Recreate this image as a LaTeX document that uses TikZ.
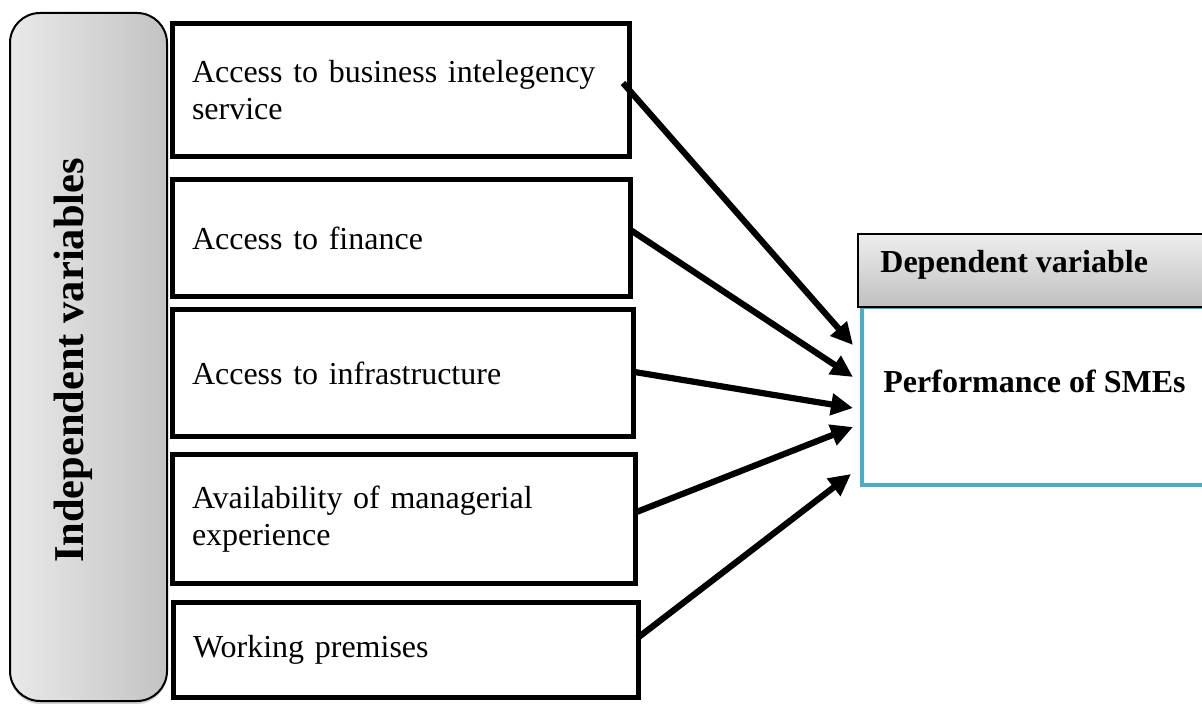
\documentclass[tikz,border=0pt]{standalone}
\usepackage{fontspec}
\setmainfont{Liberation Serif}
\usetikzlibrary{arrows.meta,calc,shadows}
\definecolor{panelgreyl}{HTML}{E9E9E9}
\definecolor{panelgreyr}{HTML}{C3C3C3}
\definecolor{headgreyt}{HTML}{EEEEEE}
\definecolor{headgreyb}{HTML}{C0C0C0}
\definecolor{accentblue}{HTML}{4BACC6}
\begin{document}
\begin{tikzpicture}[x=0.5pt,y=-0.5pt,
  varbox/.style={draw, line width=2.5pt, fill=white, inner xsep=10pt, inner ysep=0pt,
    align=left, font=\fontsize{16}{18.5}\selectfont},
  boldtext/.style={inner sep=0pt, font=\bfseries\fontsize{16}{18.5}\selectfont},
  link/.style={line width=3.1pt, -{Triangle[length=11pt,width=10.5pt]}},
  ]
\useasboundingbox (0,0) rectangle (1202,704);
\clip (0,0) rectangle (1202,704);

% side panel with the group title
\node (panel) [draw, line width=1pt, rounded corners=15pt,
  left color=panelgreyl, right color=panelgreyr,
  minimum width=78.5pt, minimum height=344pt,
  drop shadow={shadow xshift=0pt, shadow yshift=-1.5pt, opacity=0.35}] at (88.5,357) {};
\node (paneltitle) [rotate=90, inner sep=0pt, font=\bfseries\fontsize{21.25}{24}\selectfont]
  at (73,360.5) {Independent variables};

% independent variables
\node (b1) [varbox, minimum width=228.5pt, minimum height=66.5pt, text width=208.5pt]
  at (400.5,90.5) {Access to business intelegency\\service};
\node (b2) [varbox, minimum width=229pt, minimum height=58.5pt, text width=209pt]
  at (401,238.5) {Access to finance};
\node (b3) [varbox, minimum width=230.5pt, minimum height=63.5pt, text width=210.5pt]
  at (402.5,373.5) {Access to infrastructure};
\node (b4) [varbox, minimum width=231.5pt, minimum height=64pt, text width=211.5pt]
  at (403.5,519) {Availability of managerial\\experience};
\node (b5) [varbox, minimum width=232.5pt, minimum height=47.5pt, text width=212.5pt]
  at (405.5,649.5) {Working premises};

% dependent variable
\node (depbody) [draw=accentblue, line width=2pt, fill=white,
  minimum width=176.5pt, minimum height=89pt] at (1038.5,396) {};
\node (dephead) [draw, line width=1pt, top color=headgreyt, bottom color=headgreyb,
  minimum width=178.5pt, minimum height=36.5pt] at (1036.5,270.5) {};
\node (deptitle) [boldtext, anchor=base west] at (880,273) {Dependent variable};
\node (deptext) [boldtext, anchor=base west] at (883,393) {Performance of SMEs};

% links
\draw[link] ($(b1.east)+(-8.5,-7.5)$) -- ($(depbody.north west)+(-7,40)$);
\draw[link] ($(b2.east)+(-2,-8.5)$) -- ($(depbody.north west)+(-7,72)$);
\draw[link] ($(b3.east)+(-1,-1.5)$) -- ($(depbody.north west)+(-7,103)$);
\draw[link] ($(b4.east)+(-1,-7)$) -- ($(depbody.north west)+(-7,122)$);
\draw[link] ($(b5.east)+(-3,-11.5)$) -- ($(depbody.north west)+(-9,169)$);
\end{tikzpicture}
\end{document}
